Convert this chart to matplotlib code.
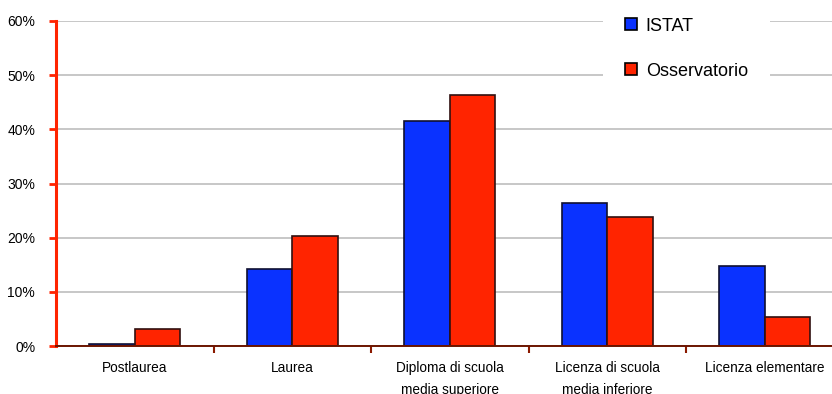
import numpy as np
import matplotlib.pyplot as plt
from matplotlib.patches import Patch
from matplotlib.ticker import PercentFormatter

plt.rcParams['font.family'] = ['Liberation Sans', 'DejaVu Sans']

categories = ['Postlaurea', 'Laurea', 'Diploma di scuola\nmedia superiore',
              'Licenza di scuola\nmedia inferiore', 'Licenza elementare']
istat = [0.4, 14.3, 41.6, 26.4, 14.8]
osservatorio = [3.2, 20.4, 46.3, 23.9, 5.4]

blue = '#0A32FF'
red = '#FF2400'

fig = plt.figure(figsize=(8.32, 3.94), dpi=100)
ax = fig.add_axes([56 / 832, 48 / 394, 787.5 / 832, 325 / 394])

x = np.arange(len(categories))
w = 0.29
ax.bar(x - w / 2, istat, w, color=blue, edgecolor='#101030', linewidth=1.2, zorder=3)
ax.bar(x + w / 2, osservatorio, w, color=red, edgecolor='#301010', linewidth=1.2, zorder=3)

ax.set_xlim(-0.5, len(categories) - 0.5)
ax.set_ylim(0, 60)
ax.set_yticks(np.arange(0, 61, 10))
ax.yaxis.set_major_formatter(PercentFormatter(decimals=0))
ax.grid(axis='y', color='#BDBDBD', linewidth=1.2, zorder=0)

# category boundaries carry the x ticks, labels sit at the centres
ax.set_xticks(np.arange(0.5, len(categories) - 0.5, 1))
ax.set_xticklabels([])
ax.set_xticks(x, minor=True)
ax.set_xticklabels(categories, minor=True, fontsize=9.8, linespacing=1.7)
ax.tick_params(axis='x', which='minor', length=0, pad=11)
ax.tick_params(axis='x', which='major', length=5, width=1.5, color='#8B1A00', direction='out')
ax.tick_params(axis='y', length=5, width=2, color=red, labelsize=10, pad=10, direction='out')

for s in ['top', 'right']:
    ax.spines[s].set_visible(False)
ax.spines['left'].set_color(red)
ax.spines['left'].set_linewidth(2.2)
ax.spines['bottom'].set_color('#6B1500')
ax.spines['bottom'].set_linewidth(1.4)
ax.spines['bottom'].set_zorder(4)

handles = [Patch(facecolor=blue, edgecolor='black', linewidth=1.2),
           Patch(facecolor=red, edgecolor='black', linewidth=1.2)]
leg = ax.legend(handles, ['ISTAT', 'Osservatorio'], loc='upper left',
                bbox_to_anchor=(603 / 832, 1 + 4 / 394), bbox_transform=fig.transFigure,
                frameon=True, fontsize=13,
                handlelength=0.67, handleheight=0.67, handletextpad=0.5,
                labelspacing=1.55, borderpad=1.2, borderaxespad=0)
leg.get_frame().set_edgecolor('none')
leg.get_frame().set_facecolor('white')
leg.get_frame().set_alpha(1)
leg.set_zorder(5)

fig.savefig('out.png', dpi=100)
